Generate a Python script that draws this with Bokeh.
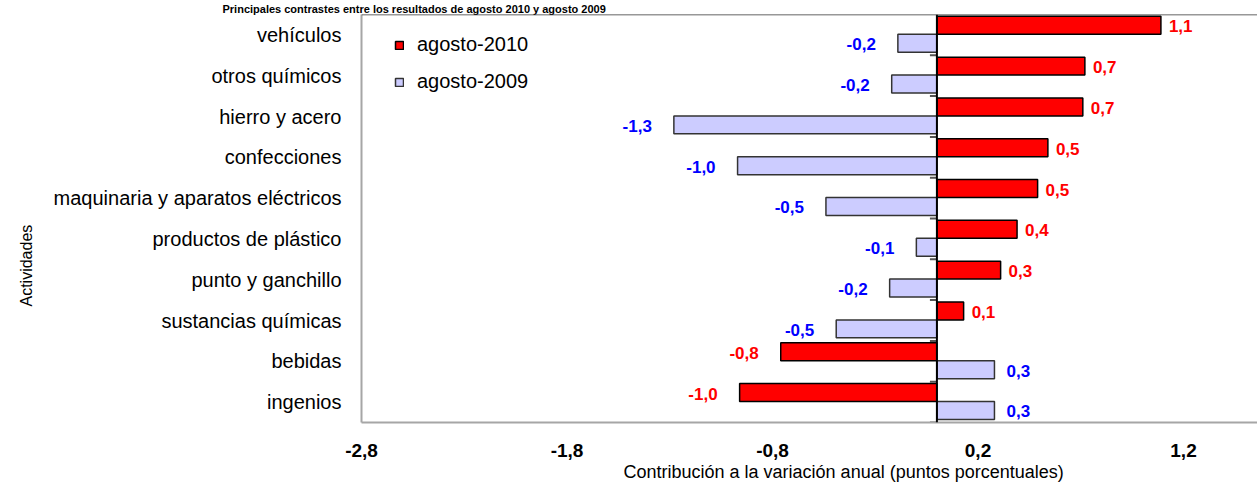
from bokeh.plotting import figure
from bokeh.models import (ColumnDataSource, FactorRange, Range1d, FixedTicker,
                          Span, Legend, LegendItem, Title)
from bokeh.transform import dodge
from bokeh.core.properties import value
from bokeh.embed import file_html
from bokeh.resources import INLINE

# ---------------- data ----------------
categories = ["vehículos", "otros químicos", "hierro y acero", "confecciones",
              "maquinaria y aparatos eléctricos", "productos de plástico",
              "punto y ganchillo", "sustancias químicas", "bebidas", "ingenios"]
agosto_2010 = [1.09, 0.72, 0.71, 0.54, 0.49, 0.39, 0.31, 0.13, -0.76, -0.96]
agosto_2009 = [-0.19, -0.22, -1.28, -0.97, -0.54, -0.10, -0.23, -0.49, 0.28, 0.28]
series_names = ["agosto-2010", "agosto-2009"]
x_ticks = [-2.8, -1.8, -0.8, 0.2, 1.2]
x_tick_labels = ["-2,8", "-1,8", "-0,8", "0,2", "1,2"]
title_text = "Principales contrastes entre los resultados de agosto 2010 y agosto 2009"
x_title = "Contribución a la variación anual (puntos porcentuales)"
y_title = "Actividades"

FONT = "Liberation Sans"


def fmt(v):
    return f"{v:.1f}".replace(".", ",")


src = ColumnDataSource(dict(
    cat=categories,
    v10=agosto_2010, v09=agosto_2009,
    l10=[fmt(v) for v in agosto_2010], l09=[fmt(v) for v in agosto_2009],
    a10=["left" if v >= 0 else "right" for v in agosto_2010],
    a09=["left" if v >= 0 else "right" for v in agosto_2009],
    o10=[8 if v >= 0 else -22 for v in agosto_2010],
    o09=[12 if v >= 0 else -22 for v in agosto_2009],
))

p = figure(width=1257, height=483,
           x_range=Range1d(-2.8, 1.56),
           y_range=FactorRange(factors=categories[::-1]),
           output_backend="svg", toolbar_location=None,
           min_border_left=360, min_border_right=0,
           min_border_top=14, min_border_bottom=61)
p.outline_line_color = None
p.xgrid.visible = False
p.ygrid.visible = False
p.background_fill_color = "white"
p.border_fill_color = "white"

UP, DOWN, H = 0.235, -0.205, 0.44

r10 = p.hbar(y=dodge("cat", UP, range=p.y_range), left=0, right="v10", height=H,
             source=src, fill_color="#ff0000", line_color="black", line_width=1.5)
r09 = p.hbar(y=dodge("cat", DOWN, range=p.y_range), left=0, right="v09", height=H,
             source=src, fill_color="#ccccff", line_color="#333333", line_width=1.5)

# small category ticks on the zero axis (at category boundaries)
p.segment(x0=0, x1=-0.034, y0=dodge("cat", -0.5, range=p.y_range),
          y1=dodge("cat", -0.5, range=p.y_range), source=src,
          line_color="#555555", line_width=2)

p.add_layout(Span(location=0, dimension="height", line_color="black", line_width=2))
# top border line of the plot area
p.add_layout(Span(location=len(categories), dimension="width",
                  line_color="#333333", line_width=1.5))

# value labels
p.text(x="v10", y=dodge("cat", UP, range=p.y_range), text="l10", source=src,
       text_align="a10", x_offset="o10", y_offset=1, text_baseline="middle",
       text_font=value(FONT), text_font_style="bold", text_font_size="17px",
       text_color="#ff0000")
p.text(x="v09", y=dodge("cat", DOWN, range=p.y_range), text="l09", source=src,
       text_align="a09", x_offset="o09", y_offset=1, text_baseline="middle",
       text_font=value(FONT), text_font_style="bold", text_font_size="17px",
       text_color="#0000ff")

# bottom axis
xa = p.xaxis[0]
xa.ticker = FixedTicker(ticks=x_ticks)
xa.major_label_overrides = {t: l for t, l in zip(x_ticks, x_tick_labels)}
xa.major_tick_out = 0
xa.major_tick_in = 0
xa.minor_tick_out = 0
xa.minor_tick_in = 0
xa.axis_line_color = "#a6a6a6"
xa.axis_line_width = 2
xa.major_label_text_font = FONT
xa.major_label_text_font_style = "bold"
xa.major_label_text_font_size = "19px"
xa.major_label_text_color = "black"
xa.major_label_standoff = 21

# left category axis
ya = p.yaxis[0]
ya.major_tick_out = 0
ya.major_tick_in = 0
ya.axis_line_color = "#a6a6a6"
ya.axis_line_width = 2
ya.major_label_text_font = FONT
ya.major_label_text_font_size = "20px"
ya.major_label_text_color = "black"
ya.major_label_standoff = 20

# legend
legend = Legend(items=[LegendItem(label=series_names[0], renderers=[r10]),
                       LegendItem(label=series_names[1], renderers=[r09])],
                location=(33, 329), orientation="vertical",
                background_fill_alpha=0, border_line_color=None,
                padding=0, margin=0, spacing=14,
                glyph_width=10, glyph_height=10, label_height=23,
                label_standoff=13, label_text_font=FONT,
                label_text_font_size="20px", label_text_color="black")
p.add_layout(legend)

# titles: x axis (below), y axis (left), chart title (above)
p.add_layout(Title(text=x_title, align="left", offset=262, standoff=0,
                   text_font=FONT, text_font_size="18px", text_font_style="normal",
                   text_color="black"), "below")
p.add_layout(Title(text=y_title, align="left", offset=116, standoff=31,
                   text_font=FONT, text_font_size="16px", text_font_style="normal",
                   text_color="black"), "left")
p.add_layout(Title(text=title_text, align="left", offset=-139, standoff=0,
                   text_font=FONT, text_font_size="11px", text_font_style="bold",
                   text_color="black"), "above")

open("out.html", "w").write(file_html(p, INLINE))
